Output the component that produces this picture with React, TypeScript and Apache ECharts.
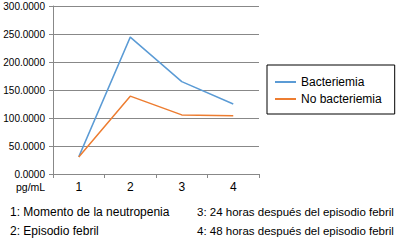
import React, { useEffect, useRef } from "react";
import * as echarts from "echarts";

const categories = ["1", "2", "3", "4"];
const bacteriemia = [30.5, 244.5, 165, 125];
const noBacteriemia = [30.5, 139, 105.5, 104];
const seriesNames = ["Bacteriemia", "No bacteriemia"];
const footerLeft = ["1: Momento de la neutropenia", "2: Episodio febril"];
const footerRight = ["3: 24 horas después del episodio febril", "4: 48 horas después del episodio febril"];
const unitLabel = "pg/mL";

const FONT = "'Liberation Sans', Arial, sans-serif";

export default function App() {
  const ref = useRef<HTMLDivElement>(null);
  useEffect(() => {
    if (!ref.current) return;
    const chart = echarts.init(ref.current, null, { renderer: "svg" });
    chart.setOption({
      animation: false,
      textStyle: { fontFamily: FONT },
      grid: { left: 53, right: 142, top: 6, bottom: 71 },
      legend: {
        orient: "vertical",
        left: 267,
        top: 65,
        data: seriesNames,
        icon: "rect",
        itemWidth: 21,
        itemHeight: 2,
        itemGap: 5,
        padding: [11, 13, 9, 8],
        borderColor: "#000",
        borderWidth: 1,
        textStyle: { fontFamily: FONT, fontSize: 12, color: "#000", padding: [0, 0, 0, 0] },
      },
      xAxis: {
        type: "category",
        data: categories,
        boundaryGap: true,
        axisLine: { lineStyle: { color: "#888", width: 1 } },
        axisTick: { show: true, length: 4, lineStyle: { color: "#888" } },
        axisLabel: { fontFamily: FONT, fontSize: 12, color: "#000", margin: 7 },
      },
      yAxis: {
        type: "value",
        min: 0,
        max: 300,
        interval: 50,
        axisLine: { show: true, lineStyle: { color: "#888", width: 1 } },
        axisTick: { show: true, length: 4, lineStyle: { color: "#888" } },
        splitLine: { lineStyle: { color: "#888", width: 1 } },
        axisLabel: {
          fontFamily: FONT,
          fontSize: 10,
          color: "#000",
          margin: 8,
          formatter: (v: number) => v.toFixed(4),
        },
      },
      series: [
        {
          name: seriesNames[0],
          type: "line",
          data: bacteriemia,
          symbol: "none",
          lineStyle: { color: "#5B9BD5", width: 1.5 },
          itemStyle: { color: "#5B9BD5" },
        },
        {
          name: seriesNames[1],
          type: "line",
          data: noBacteriemia,
          symbol: "none",
          lineStyle: { color: "#ED7D31", width: 1.5 },
          itemStyle: { color: "#ED7D31" },
        },
      ],
      graphic: [
        {
          type: "text",
          left: 16,
          top: 181,
          style: { text: unitLabel, font: `10.5px ${FONT}`, fill: "#000" },
        },
        ...footerLeft.map((t, i) => ({
          type: "text",
          left: 10,
          top: 206 + i * 19,
          style: { text: t, font: `12px ${FONT}`, fill: "#000" },
        })),
        ...footerRight.map((t, i) => ({
          type: "text",
          left: 197,
          top: 206 + i * 19,
          style: { text: t, font: `11.5px ${FONT}`, fill: "#000" },
        })),
      ],
    });
    return () => chart.dispose();
  }, []);
  return <div ref={ref} style={{ width: 401, height: 245, position: "absolute", left: 0, top: 0 }} />;
}
